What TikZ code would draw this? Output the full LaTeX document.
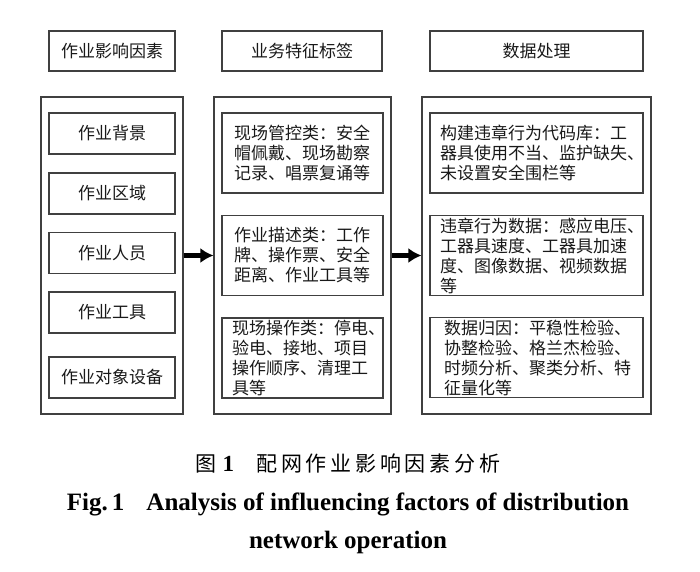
\documentclass[tikz,border=0pt]{standalone}
\usepackage{fontspec}
\setmainfont{Liberation Serif}
\newfontfamily\cjk{Noto Sans CJK SC}
\newfontfamily\capcjk[LetterSpace=18]{Noto Sans CJK SC}
\usetikzlibrary{arrows.meta}
\begin{document}
\begin{tikzpicture}[x=1pt,y=-1pt,
  box/.style={draw=black!75,line width=1.1pt,text=black!90,inner sep=0pt,
    font=\cjk\fontsize{17}{20}\selectfont},
  col/.style={draw=black!75,line width=1.1pt,inner sep=0pt,minimum height=317pt},
  tag/.style={box,align=left,minimum height=80pt,inner xsep=12pt,text width=137pt},
  proc/.style={box,align=left,minimum height=80pt,inner xsep=10pt,text width=193pt},
  link/.style={line width=4.5pt,-{Latex[length=13pt,width=15pt]}}]
 \useasboundingbox (0,0) rectangle (700,571);

 \node[box,minimum width=126pt,minimum height=40pt] (head1) at (112,51) {作业影响因素};
 \node[box,minimum width=160pt,minimum height=40pt] (head2) at (302,51) {业务特征标签};
 \node[box,minimum width=213pt,minimum height=40pt] (head3) at (536.5,51) {数据处理};

 \node[col,minimum width=142pt] (col1) at (112,255.5) {};
 \node[col,minimum width=177pt] (col2) at (302.5,255.5) {};
 \node[col,minimum width=229pt] (col3) at (536.5,255.5) {};

 \foreach \name/\y/\txt in {f1/133.5/作业背景, f2/193.5/作业区域, f3/253/作业人员,
   f4/312.5/作业工具, f5/377.5/作业对象设备}
   \node[box,minimum width=126pt,minimum height=41pt] (\name) at (112,\y) {\txt};

 \node[tag] (t1) at (302.5,153) {现场管控类：安全\\帽佩戴、现场勘察\\记录、唱票复诵等};
 \node[tag] (t2) at (302.5,255.5) {作业描述类：工作\\牌、操作票、安全\\距离、作业工具等};
 \node[tag,inner xsep=10pt,text width=141pt] (t3) at (302.5,358) {现场操作类：停电、\\验电、接地、项目\\操作顺序、清理工\\具等};

 \node[proc] (p1) at (536.5,153) {构建违章行为代码库：工\\器具使用不当、监护缺失、\\未设置安全围栏等};
 \node[proc] (p2) at (536.5,255.5) {违章行为数据：感应电压、\\工器具速度、工器具加速\\度、图像数据、视频数据\\等};
 \node[proc,inner xsep=14pt,text width=185pt] (p3) at (536.5,357.5) {数据归因：平稳性检验、\\协整检验、格兰杰检验、\\时频分析、聚类分析、特\\征量化等};

 \draw[link] (col1.east) -- (col2.west);
 \draw[link] (col2.east) -- (col3.west);

 \node (cap1) at (348,463.5) {{\capcjk\fontsize{21}{22}\selectfont 图}\hspace{6pt}{\fontsize{23}{24}\selectfont\bfseries 1}\hspace{22pt}{\capcjk\fontsize{21}{22}\selectfont 配网作业影响因素分析}};
 \node[anchor=base,font=\fontsize{25}{30}\selectfont\bfseries] (cap2) at (348,510) {Fig.\,1\hspace{22pt}Analysis of influencing factors of distribution};
 \node[anchor=base,font=\fontsize{25}{30}\selectfont\bfseries] (cap3) at (348,548) {network operation};
\end{tikzpicture}
\end{document}
